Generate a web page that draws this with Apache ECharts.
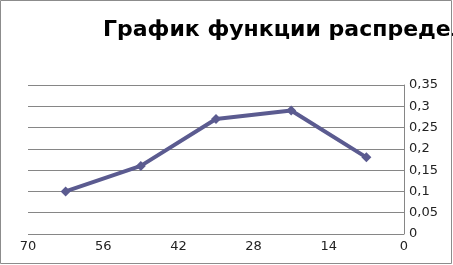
<!DOCTYPE html>
<html><head><meta charset="utf-8">
<script src="https://cdn.jsdelivr.net/npm/echarts@6/dist/echarts.min.js"></script>
<style>html,body{margin:0;padding:0;background:#fff}#c{width:453px;height:265px}</style>
</head><body><div id="c"></div>
<script>
const titleText = "График функции распределения";
const xValues = [63, 49, 35, 21, 7];
const yValues = [0.10, 0.16, 0.27, 0.29, 0.18];
const chart = echarts.init(document.getElementById('c'), null, {renderer:'canvas'});
const fmt = v => String(+v.toFixed(2)).replace('.', ',');
chart.setOption({
  animation:false,
  title:{text:titleText, left:98, top:14, textStyle:{fontFamily:'DejaVu Sans', fontWeight:'bold', fontSize:22, color:'#000'}},
  graphic:[{type:'rect', shape:{x:0.5,y:0.5,width:451,height:263}, style:{fill:null, stroke:'#8c8c8c', lineWidth:1}, silent:true}],
  grid:{left:28, right:49, top:85, bottom:31},
  xAxis:{type:'value', min:0, max:70, interval:14, inverse:true,
    axisLine:{show:false}, axisTick:{show:false}, splitLine:{show:false},
    axisLabel:{fontFamily:'DejaVu Sans', fontSize:13, color:'#222', margin:6}},
  yAxis:{type:'value', position:'right', min:0, max:0.35, interval:0.05,
    axisLine:{show:true, lineStyle:{color:'#868686', width:1}}, axisTick:{show:false},
    splitLine:{lineStyle:{color:'#868686', width:1}},
    axisLabel:{fontFamily:'DejaVu Sans', fontSize:13, color:'#222', margin:5, formatter:fmt}},
  series:[{type:'line', data:xValues.map((x,i)=>[x, yValues[i]]),
    lineStyle:{color:'#5b5b90', width:4}, itemStyle:{color:'#5b5b90'},
    symbol:'diamond', symbolSize:10}]
});
</script></body></html>
